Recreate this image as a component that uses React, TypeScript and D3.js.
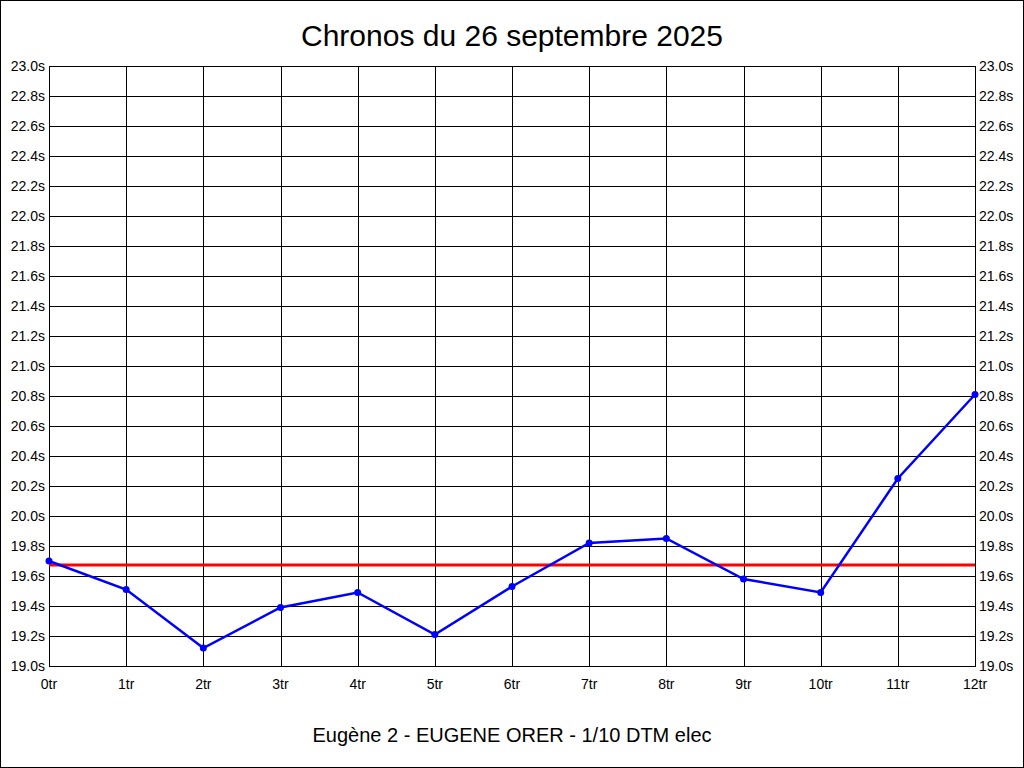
import React from "react";
import * as d3 from "d3";

const laps = ["0tr", "1tr", "2tr", "3tr", "4tr", "5tr", "6tr", "7tr", "8tr", "9tr", "10tr", "11tr", "12tr"];
const times = [19.70, 19.51, 19.12, 19.39, 19.49, 19.21, 19.53, 19.82, 19.85, 19.58, 19.49, 20.25, 20.81];
const yTicks = [19.0, 19.2, 19.4, 19.6, 19.8, 20.0, 20.2, 20.4, 20.6, 20.8, 21.0, 21.2, 21.4, 21.6, 21.8, 22.0, 22.2, 22.4, 22.6, 22.8, 23.0];
const title = "Chronos du 26 septembre 2025";
const subtitle = "Eugène 2 - EUGENE ORER - 1/10 DTM elec";

export default function App() {
  const W = 1024, H = 768;
  const left = 49, right = 975, top = 66, bottom = 666;
  const x = d3.scaleLinear().domain([0, laps.length - 1]).range([left, right]);
  const y = d3.scaleLinear().domain([19, 23]).range([bottom, top]);
  const avg = d3.mean(times) as number;
  const line = d3.line<number>().x((_, i) => x(i)).y((d) => y(d));
  const font = "'Liberation Sans', Arial, sans-serif";
  const px = (v: number) => Math.round(v) + 0.5;
  return (
    <svg width={W} height={H} style={{ position: "fixed", left: 0, top: 0, background: "#fff" }} fontFamily={font}>
      <rect x={0.5} y={0.5} width={W - 1} height={H - 1} fill="#fff" stroke="#000" />
      <text x={512} y={46} textAnchor="middle" fontSize={30}>{title}</text>
      {yTicks.map((t) => (
        <g key={t}>
          <line x1={left} x2={right + 1} y1={px(y(t))} y2={px(y(t))} stroke="#000" />
          <text x={45} y={Math.round(y(t)) + 5} textAnchor="end" fontSize={14}>{t.toFixed(1) + "s"}</text>
          <text x={979} y={Math.round(y(t)) + 5} textAnchor="start" fontSize={14}>{t.toFixed(1) + "s"}</text>
        </g>
      ))}
      {laps.map((l, i) => (
        <g key={l}>
          <line x1={px(x(i))} x2={px(x(i))} y1={top} y2={bottom + 1} stroke="#000" />
          <text x={x(i)} y={689} textAnchor="middle" fontSize={14}>{l}</text>
        </g>
      ))}
      <line x1={left} x2={right} y1={y(avg)} y2={y(avg)} stroke="#ff0000" strokeWidth={3} />
      <path d={line(times) as string} fill="none" stroke="#0000ff" strokeWidth={2.5} />
      {times.map((t, i) => (
        <circle key={i} cx={x(i)} cy={y(t)} r={3.5} fill="#0000ff" />
      ))}
      <text x={512} y={742} textAnchor="middle" fontSize={20}>{subtitle}</text>
    </svg>
  );
}
